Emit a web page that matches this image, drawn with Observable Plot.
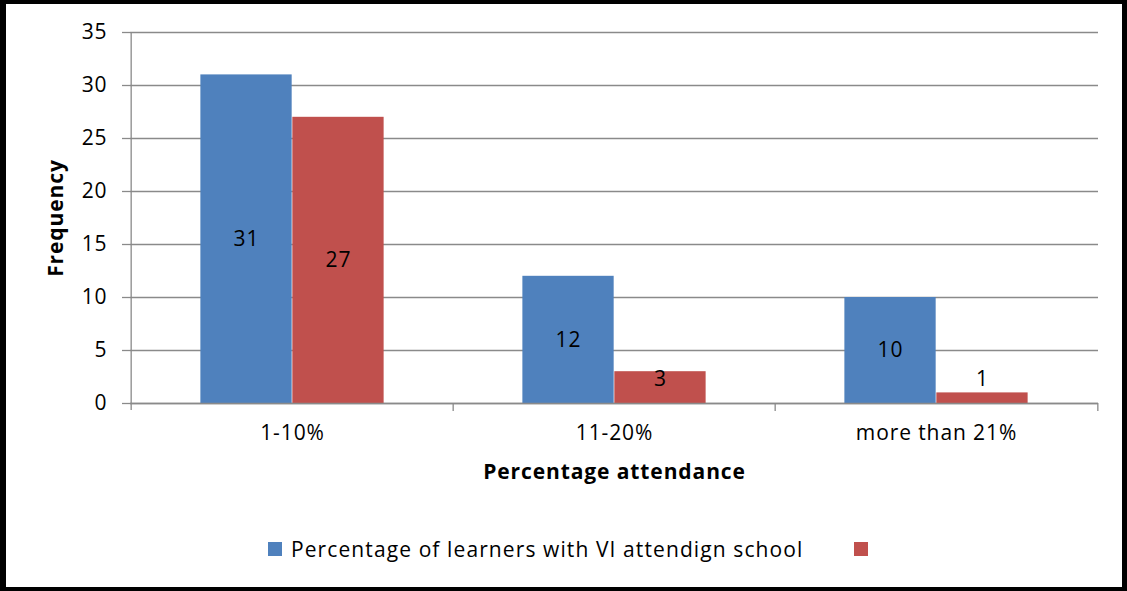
<!DOCTYPE html>
<html><head><meta charset="utf-8">
<script src="https://cdn.jsdelivr.net/npm/d3@7"></script>
<script src="https://cdn.jsdelivr.net/npm/@observablehq/plot@0.6"></script>
<style>
html,body{margin:0;padding:0;background:#fff;}
#wrap{position:relative;width:1127px;height:591px;overflow:hidden;font-family:"Open Sans",sans-serif;}
#border{position:absolute;left:0;top:0;width:1127px;height:591px;box-sizing:border-box;border-style:solid;border-color:#000;border-width:4px 5px 4px 6px;pointer-events:none;}
#chart{position:absolute;left:0;top:0;}
#legend{position:absolute;left:268px;top:532px;}
#legend [class*="swatch"]{margin-right:51px !important;}
#legend [class*="swatch"] > svg{margin-right:9px !important;}
</style></head><body>
<div id="wrap"><div id="chart"></div><div id="legend"></div><div id="border"></div></div>
<script>
const categories = ["1-10%", "11-20%", "more than 21%"];
const learnersVI = [31, 12, 10];
const secondSeries = [27, 3, 1];
const seriesNames = ["Percentage of learners with VI attendign school", ""];
const seriesColors = ["#4F81BD", "#C0504D"];
const yTicks = [0, 5, 10, 15, 20, 25, 30, 35];
const yTitle = "Frequency";
const xTitle = "Percentage attendance";

const W = 1127, H = 500, ml = 130, mr = 29, mt = 32, mb = 97;
const bw = (W - ml - mr) / categories.length;
const barW = bw * 0.285;
const pad = (bw - 2 * barW) / 2;
const rows = categories.map((c, i) => ({category: c, a: learnersVI[i], b: secondSeries[i]}));
const labelY = v => Math.max(v / 2, 2.3);
const gridColor = "#8a8a8a";
const font = "'Open Sans', sans-serif";

const chart = Plot.plot({
  width: W, height: H,
  marginLeft: ml, marginRight: mr, marginTop: mt, marginBottom: mb,
  style: {fontFamily: font, fontSize: "21px", letterSpacing: "0.9px", color: "#000", background: "transparent", overflow: "visible"},
  x: {domain: categories, padding: 0, label: null},
  y: {domain: [0, 35], label: null},
  marks: [
    Plot.gridY(yTicks, {stroke: gridColor, strokeOpacity: 1, strokeWidth: 1.3}),
    Plot.barY(rows, {x: "category", y: "a", fill: seriesColors[0], insetLeft: pad, insetRight: pad + barW}),
    Plot.barY(rows, {x: "category", y: "b", fill: seriesColors[1], insetLeft: pad + barW, insetRight: pad}),
    Plot.ruleY([0], {stroke: gridColor, strokeWidth: 1.3}),
    Plot.ruleX(categories.slice(0, 1), {x: d => d, dx: -bw / 2, insetBottom: -7, stroke: gridColor, strokeWidth: 1.3}),
    Plot.ruleX(categories.slice(1), {x: d => d, dx: -bw / 2, y1: 0, y2: 0, insetBottom: -8, stroke: gridColor, strokeWidth: 1.3}),
    Plot.ruleX(categories.slice(-1), {x: d => d, dx: bw / 2, y1: 0, y2: 0, insetBottom: -8, stroke: gridColor, strokeWidth: 1.3}),
    Plot.axisY(yTicks, {tickSize: 8, tickPadding: 15, stroke: gridColor, strokeWidth: 1.3, fill: "#000", label: null}),
    Plot.axisX({tickSize: 0, tickPadding: 22, fill: "#000", label: null}),
    Plot.text(rows, {x: "category", y: d => labelY(d.a), text: d => String(d.a), dx: -barW / 2, fill: "#000"}),
    Plot.text(rows, {x: "category", y: d => labelY(d.b), text: d => String(d.b), dx: barW / 2, fill: "#000"}),
    Plot.text([yTitle], {frameAnchor: "left", textAnchor: "middle", dx: -74, rotate: -90, fontWeight: "bold", fill: "#000"}),
    Plot.text([xTitle], {frameAnchor: "bottom", dy: 75, fontWeight: "bold", fill: "#000"})
  ]
});
document.getElementById("chart").appendChild(chart);

const legend = Plot.legend({
  color: {type: "ordinal", domain: seriesNames, range: seriesColors},
  swatchSize: 14,
  className: "lg",
  style: {fontFamily: font, fontSize: "21px", letterSpacing: "1.1px", color: "#000"}
});
document.getElementById("legend").appendChild(legend);
</script>
</body></html>
